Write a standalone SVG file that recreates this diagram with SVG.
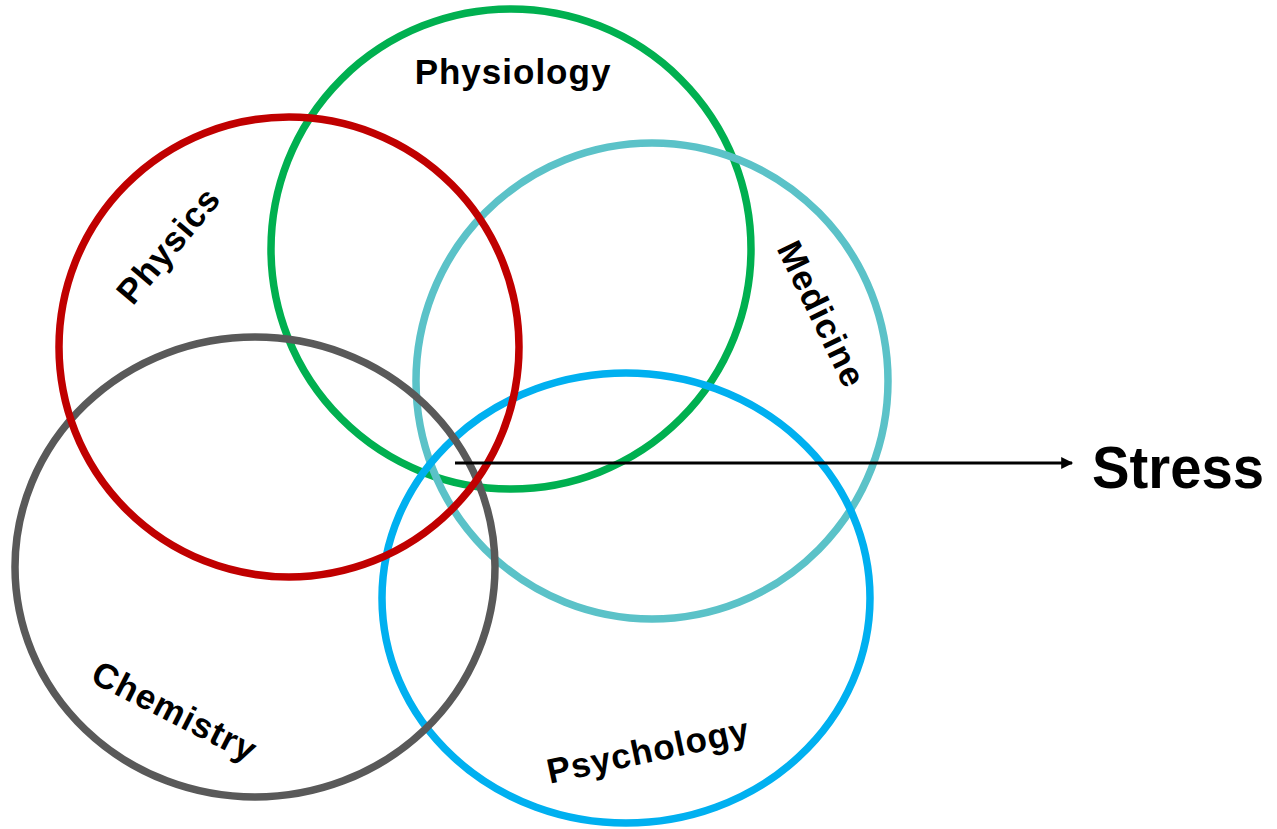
<svg xmlns="http://www.w3.org/2000/svg" width="1277" height="829" viewBox="0 0 1277 829">
  <style>
    .ring { fill: none; stroke-width: 7.5; }
    .label { font-family: "Liberation Sans", Arial, sans-serif; font-weight: bold; font-size: 35px; fill: #000; text-anchor: middle; dominant-baseline: central; letter-spacing: 1px; }
    .link { stroke: #000; stroke-width: 3; fill: none; }
  </style>
  <defs>
    <marker id="arrowhead" viewBox="0 0 10 10" refX="9" refY="5" markerWidth="4.5" markerHeight="4" orient="auto" markerUnits="strokeWidth">
      <path d="M0,0 L10,5 L0,10 z" fill="#000"/>
    </marker>
  </defs>
  <rect width="1277" height="829" fill="#fff"/>

  <g id="physiology">
    <ellipse class="ring" cx="511" cy="249" rx="240" ry="240" stroke="#00B050"/>
    <text class="label" x="513" y="71">Physiology</text>
  </g>
  <g id="medicine">
    <ellipse class="ring" cx="652" cy="381" rx="236" ry="238" stroke="#5BC2C8"/>
    <text class="label" transform="translate(822,314) rotate(64)">Medicine</text>
  </g>
  <g id="psychology">
    <ellipse class="ring" cx="626" cy="598" rx="244" ry="225" stroke="#00B0F0"/>
    <text class="label" transform="translate(648,750) rotate(-12)">Psychology</text>
  </g>
  <g id="chemistry">
    <ellipse class="ring" cx="255" cy="567" rx="240" ry="230" stroke="#595959"/>
    <text class="label" transform="translate(175,711) rotate(27)">Chemistry</text>
  </g>
  <g id="physics">
    <ellipse class="ring" cx="289" cy="347" rx="230" ry="230" stroke="#C00000"/>
    <text class="label" transform="translate(168,245) rotate(-50)">Physics</text>
  </g>

  <g id="connectors">
    <line class="link" x1="455" y1="463" x2="1072" y2="463" marker-end="url(#arrowhead)"/>
  </g>
  <g id="stress">
    <text x="1092" y="488" font-family="Liberation Sans, Arial, sans-serif" font-weight="bold" font-size="60" textLength="172" lengthAdjust="spacingAndGlyphs" fill="#000">Stress</text>
  </g>
</svg>
